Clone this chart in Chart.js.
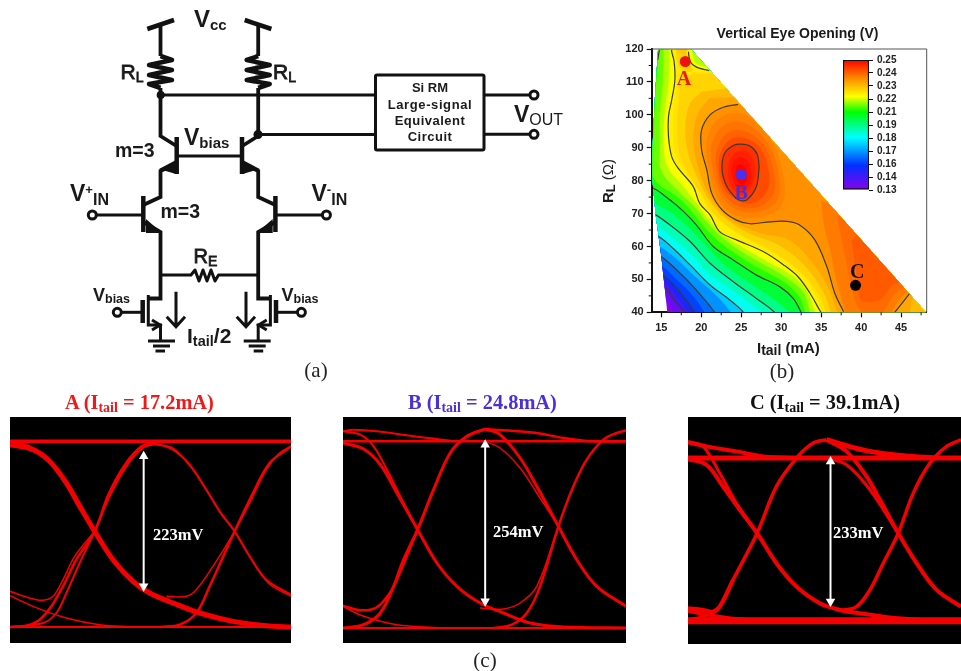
<!DOCTYPE html>
<html>
<head>
<meta charset="utf-8">
<title>Vertical eye opening</title>
<script src="https://cdn.jsdelivr.net/npm/chart.js@4/dist/chart.umd.min.js"></script>
<style>
html, body { margin: 0; padding: 0; background: #fff; }
#page { position: relative; width: 961px; height: 671px; overflow: hidden; }
canvas { position: absolute; display: block; }
#contour { left: 612px; top: 30px; }
#colorbar { left: 835px; top: 50px; }
#eyeA { left: 10px; top: 417px; background: #000; }
#eyeB { left: 343px; top: 417px; background: #000; }
#eyeC { left: 688px; top: 417px; background: #000; }
svg { position: absolute; left: 0; top: 0; }
.w { fill: none; stroke: #111; stroke-width: 3; }
.v { fill: none; stroke: #111; stroke-width: 3.8; }
.t { fill: none; stroke: #111; stroke-width: 4.5; }
.sans { font-family: "Liberation Sans", sans-serif; font-weight: bold; fill: #1a1a1a; }
.serif { font-family: "Liberation Serif", serif; }
.head { font-family: "Liberation Serif", serif; font-weight: bold; font-size: 20.4px; }
.eye { font-family: "Liberation Serif", serif; font-weight: bold; font-size: 16.5px; fill: #fff; }
</style>
</head>
<body>
<div id="page">
<canvas id="contour" width="330" height="320"></canvas>
<canvas id="colorbar" width="75" height="150"></canvas>
<canvas id="eyeA" width="281" height="226"></canvas>
<canvas id="eyeB" width="283" height="226"></canvas>
<canvas id="eyeC" width="273" height="227"></canvas>

<svg width="961" height="671" viewBox="0 0 961 671">
  <defs>
    <g id="half">
      <!-- supply rail, load resistor, output wire -->
      <path class="t" d="M147.3 29 L174 20"/>
      <path class="v" d="M160.5 25 V56"/>
      <path class="t" stroke-linejoin="round" d="M160.5 56 L172 60 L149 65 L172 70 L149 75 L172 80 L149 84 L160.5 88"/>
      <path class="v" d="M160.5 88 V136 L176.5 146"/>
      <!-- upper transistor -->
      <path class="t" d="M176.7 137 V174"/>
      <path class="v" d="M176.7 163 L160.5 171 V197 L143.3 205"/>
      <path fill="#111" d="M159 169 L176 160 L176 174 Z"/>
      <!-- lower transistor -->
      <path class="t" d="M143.3 196 V232"/>
      <path class="v" d="M143.3 222 L160.5 232 V298.5 H148.3"/>
      <path fill="#111" d="M146 219 L162 233 L146 233 Z"/>
      <path class="w" d="M96.7 215 H143"/>
      <circle cx="92.3" cy="215" r="4" fill="#fff" stroke="#111" stroke-width="3"/>
      <!-- tail mosfet and ground -->
      <path class="w" d="M148.3 295 V325 H160.5 V341"/>
      <path class="t" d="M142.7 300 V323"/>
      <path class="w" d="M121.7 312.3 H142"/>
      <circle cx="117.3" cy="312.3" r="4" fill="#fff" stroke="#111" stroke-width="3"/>
      <path class="w" d="M152 320 L160 325 L152 330"/>
      <path class="w" d="M148 341 H175 M153 346 H170 M155.5 351 H165"/>
    </g>
  </defs>
  <use href="#half"/>
  <use href="#half" transform="translate(418.7,0) scale(-1,1)"/>

  <circle cx="160.7" cy="95" r="4" fill="#111"/>
  <circle cx="258" cy="134.5" r="4.5" fill="#111"/>
  <path class="w" d="M160 95 H375 M258 134.5 H375"/>
  <path class="w" d="M176.7 156 H242"/>
  <path class="w" stroke-linejoin="round" d="M160.5 275 H191 L195 270 L199 281 L203 270 L207 281 L211 270 L215 281 L218.5 275 H258.3"/>
  <path class="w" d="M176 291.7 V325 M166.7 316.7 L176 326.7 L185 316.7"/>
  <path class="w" d="M246 291.7 V325 M236.7 316.7 L246 326.7 L255 316.7"/>

  <rect x="375.5" y="75" width="108.5" height="75" rx="1.5" fill="#fff" stroke="#111" stroke-width="3"/>
  <path class="w" d="M484 95 H530 M484 134.3 H530"/>
  <circle cx="534" cy="95" r="4" fill="#fff" stroke="#111" stroke-width="3"/>
  <circle cx="534" cy="134.3" r="4" fill="#fff" stroke="#111" stroke-width="3"/>

  <g class="sans" text-anchor="middle" font-size="13">
    <text x="430" y="92">Si RM</text>
    <text x="430" y="108.5" letter-spacing="0.6">Large-signal</text>
    <text x="430" y="125" letter-spacing="0.5">Equivalent</text>
    <text x="430" y="141" letter-spacing="0.5">Circuit</text>
  </g>

  <text class="sans" x="194" y="27" font-size="24">V<tspan font-size="15" dy="3">cc</tspan></text>
  <text class="sans" x="120.5" y="79" font-size="21" style="font-weight:normal" stroke="#1a1a1a" stroke-width="0.8">R<tspan font-size="14" dy="3">L</tspan></text>
  <text class="sans" x="273" y="79" font-size="21" style="font-weight:normal" stroke="#1a1a1a" stroke-width="0.8">R<tspan font-size="14" dy="3">L</tspan></text>
  <text class="sans" x="184" y="145" font-size="23">V<tspan font-size="15" dy="3">bias</tspan></text>
  <text class="sans" x="115" y="157" font-size="19.5">m=3</text>
  <text class="sans" x="160.5" y="218" font-size="19.5">m=3</text>
  <text class="sans" x="70" y="201" font-size="23">V<tspan font-size="13" dy="-7">+</tspan><tspan font-size="16" dy="11">IN</tspan></text>
  <text class="sans" x="311.5" y="201" font-size="23">V<tspan font-size="13" dy="-7">-</tspan><tspan font-size="16" dy="11">IN</tspan></text>
  <text class="sans" x="193.5" y="263" font-size="20" style="font-weight:normal" stroke="#1a1a1a" stroke-width="0.8">R<tspan font-size="14" dy="3">E</tspan></text>
  <text class="sans" x="93" y="301" font-size="18">V<tspan font-size="12.5" dy="2">bias</tspan></text>
  <text class="sans" x="281.5" y="301" font-size="18">V<tspan font-size="12.5" dy="2">bias</tspan></text>
  <text class="sans" x="187" y="343" font-size="21">I<tspan font-size="14.5" dy="3">tail</tspan><tspan dy="-3">/2</tspan></text>
  <text class="sans" x="514" y="122" font-size="23">V<tspan font-size="16" dy="3" style="font-weight:normal">OUT</tspan></text>

  <text class="serif" x="316" y="377" font-size="21" text-anchor="middle" fill="#222">(a)</text>
  <text class="serif" x="782" y="378" font-size="21" text-anchor="middle" fill="#222">(b)</text>
  <text class="serif" x="485" y="667" font-size="21" text-anchor="middle" fill="#222">(c)</text>

  <text class="sans" x="797.5" y="38" font-size="14" text-anchor="middle">Vertical Eye Opening (V)</text>
  <text class="sans" x="757" y="353" font-size="15">I<tspan font-size="14" dy="2">tail</tspan><tspan dy="-2"> (mA)</tspan></text>
  <text class="sans" transform="rotate(-90 613 181)" x="613" y="181" font-size="15" text-anchor="middle">R<tspan font-size="13" dy="2">L</tspan><tspan dy="-2" style="font-weight:normal"> (&#937;)</tspan></text>

  <text class="head" x="65" y="409" fill="#f01818">A (I<tspan font-size="14" dy="3">tail</tspan><tspan dy="-3"> = 17.2mA)</tspan></text>
  <text class="head" x="408" y="409" fill="#4a30d8">B (I<tspan font-size="14" dy="3">tail</tspan><tspan dy="-3"> = 24.8mA)</tspan></text>
  <text class="head" x="750" y="409" fill="#111">C (I<tspan font-size="14" dy="3">tail</tspan><tspan dy="-3"> = 39.1mA)</tspan></text>

  <text class="eye" x="153" y="540">223mV</text>
  <text class="eye" x="493" y="537">254mV</text>
  <text class="eye" x="833" y="538">233mV</text>
</svg>
</div>

<script>
// ---------- contour plot (b) ----------
const xTicks = [15, 20, 25, 30, 35, 40, 45];
const yTicks = [40, 50, 60, 70, 80, 90, 100, 110, 120];
const xMinorTicks = [17.5, 22.5, 27.5, 32.5, 37.5, 42.5, 47.5];
const yMinorTicks = [45, 55, 65, 75, 85, 95, 105, 115];

const colorbarLabels = ['0.13', '0.14', '0.16', '0.17', '0.18', '0.19', '0.21', '0.22', '0.23', '0.24', '0.25'];

// rim of the measured area, [Itail, RL]
const domainRim = [[14.6,120],[14.2,105],[13.9,90],[13.9,80],[14.3,69.6],[15,57],[15.75,40],[48.1,40],[18.7,120]];

// iso lines, low corner first, each one runs left edge -> bottom edge
const iso136 = [[13,47],[14.5,47],[15.7,43.5],[16.5,40.5],[16.9,39]];
const iso142 = [[13,50],[15.5,47.3],[16.9,42.7],[18,39.9],[18.2,38]];
const iso149 = [[13,53],[15.3,49.5],[17.1,44.5],[18.6,39],[18.8,38]];
const iso155 = [[13,54],[15.2,51.3],[17.3,46.3],[19.2,39.9],[19.4,38]];
const iso160 = [[13,56],[15.1,54],[17,49.8],[18.6,46],[20.4,40],[20.6,38]];
const iso165 = [[13,59],[15,56.9],[16.7,53.4],[19,47.8],[21.7,39.9],[21.9,38]];
const iso172 = [[13,62],[15,59.7],[17,56],[19.4,50.5],[21.5,46],[23.7,40],[23.9,38]];
const iso180 = [[13,65],[14.7,63],[16.5,59.4],[18.6,54.4],[21.1,48.3],[23.6,43.7],[25.3,39.9],[25.5,38]];
const iso185 = [[13,69],[16.2,63],[18.6,58],[21.1,51.5],[24,46.5],[27.4,40],[27.6,38]];
const iso190 = [[13,71],[14.3,69.6],[16.1,66.5],[18.6,61.5],[21.1,54.9],[24,49.3],[26.9,44.2],[29.2,39.9],[29.4,38]];
const iso197 = [[12.5,75],[16.1,70.5],[18.3,66],[20.5,60.5],[23,54.2],[26,49],[28.8,44.5],[31,40],[31.2,38]];
const iso204 = [[12,78.4],[14,77.7],[16.1,74.1],[17.8,70.6],[19.4,66.5],[21.5,60],[24,55.9],[26.9,51.3],[29.8,47.8],[31.5,44.2],[32.5,39.9],[32.7,38]];
const iso208 = [[14.6,122],[14.6,116],[14.3,108],[14.1,100],[13.9,90],[13.7,83],[14.6,79],[16.5,76],[18.5,71.5],[20,67],[22,62],[24.5,57.5],[27.5,53],[30.5,49],[32.2,45],[33,40],[33.2,38]];
const iso212 = [[15.3,122],[15.2,110],[14.8,100],[14.8,90],[15,83],[17,77],[19,72.5],[20.5,68],[22.5,63],[25,58.5],[28,54.3],[31,50],[32.8,46],[33.6,40],[33.8,38]];

// upper levels are whole outlines, they have to go round the low top right corner
const area216 = [[16,122],[15.9,110],[15.4,100],[15.3,90],[15.8,84],[17.3,79.5],[19.3,73.5],[20.8,68.5],[23,63.2],[25.5,59.3],[28.6,55],[31.5,51],[33.2,46.5],[34.2,40],[34.3,38],[60,38],[60,70],[24,112],[21.5,114.3],[19.7,115.2],[19,117],[18.9,122]];
const area219 = [[16.3,122],[16.3,119.2],[16.6,116.2],[16.7,110.6],[16.3,104.5],[15.9,99.5],[15.9,93.4],[16.3,87.3],[17.1,83.8],[19,78.2],[19.8,73.1],[21.1,69.6],[22.3,64.5],[24.4,62],[27.8,58.4],[30.3,54.4],[32.1,50.8],[33.6,45.8],[34.8,40.7],[35,38],[60,38],[60,70],[24,113],[21,113.4],[19.4,114.5],[18.6,116.2],[18.4,119.2],[18.4,122]];
const area221 = [[17,111],[16.7,105],[16.5,95],[16.8,88],[17.8,83.5],[19.5,77.5],[21,71],[23.5,65.5],[27,60.5],[31,55],[33.6,48.5],[35.2,40],[35.4,38],[60,38],[60,90],[23,113.5],[21,113],[19,113]];
const area223 = [[17.5,110],[17.2,105],[17,95],[17.3,88],[18.2,83],[20,76],[22,69],[25,63.5],[29,58.5],[32.5,52],[34.8,45],[35.6,40],[35.8,38],[60,38],[60,90],[22.5,114],[21,112.5],[19,112.5]];
const area226 = [[20,107],[18.5,103],[18,95],[18.5,87],[19.7,80],[21,74],[23,68.5],[26,64],[30,60],[33,54],[35.3,46],[36.2,40],[36.4,38],[60,38],[60,80],[24,110],[23,108]];
const area229 = [[21,105],[19.5,100],[19,92],[19.5,85],[20.5,78],[22,72],[24,67.5],[27.5,64],[31,62],[33.6,56],[35.8,48],[37,40],[37.2,38],[45.5,38],[47,46],[60,50],[26,106],[24,105.5]];
const area233 = [[24.6,103.2],[22.75,102.3],[21.1,100],[20.04,95.4],[20.04,89.4],[20.7,83.2],[21.3,76.2],[22.6,71.1],[24.4,68],[26.1,66.9],[28.6,67.5],[30.7,67.6],[32.3,66.5],[34.2,62],[35.7,53.9],[36.7,45.8],[37.8,40.2],[38,38],[44.2,38],[44.2,40],[46.1,45.8],[47,47],[60,60],[27,106]];

// darker orange around C
const blobC236 = [[35,74],[35.3,67],[36.1,59],[36.9,49.8],[38,40.3],[38.2,38],[43.8,38],[43.8,40],[45.7,46],[60,60]];
const blobC238 = [[37,69],[37.8,59],[38.6,49.8],[39.2,43.7],[40,40],[40.2,38],[42.5,38],[43,41],[45,47],[60,55],[40,72]];
const blobC240 = [[38.8,62],[39.2,55],[39.6,49],[40,43.7],[42.3,43.7],[44.4,48.8],[60,55],[41,67]];

// peak around B, loops start on the right side where the seam is least visible
const peakB235 = [[30.4,80],[29.6,88],[28,95],[25.5,100],[23,100],[21.2,96],[20.6,90],[21,83],[21.8,76],[23,71.5],[25,69],[27.5,69],[29.6,71],[30.4,75],[30.4,80]];
const peakB237 = [[29.8,80],[29.2,87],[27.8,93],[25.5,97.5],[23.3,97.5],[21.8,94],[21.2,89],[21.5,83],[22.2,77],[23.3,73],[25.3,70.5],[27.5,70.8],[29.2,73],[29.8,76.5],[29.8,80]];
const peakB239 = [[29.2,81],[28.6,87],[27.6,91.5],[25.5,95],[23.6,95],[22.3,91.5],[21.8,87],[22,82],[22.5,77.5],[23.5,74],[25.3,71.8],[27.2,72],[28.6,74.5],[29.2,77.5],[29.2,81]];
const peakB241 = [[28.5,82],[28,87],[27,91],[25.3,93],[23.8,92.7],[22.7,90],[22.2,86],[22.3,81.5],[22.9,77.5],[23.9,75],[25.3,73.2],[26.9,73.6],[28,76],[28.5,79],[28.5,82]];
const peakB244 = [[27.25,84.2],[27,88],[26.1,90.5],[25.04,91.1],[24,90.7],[22.9,88.2],[22.6,83.2],[23.2,78.2],[24.3,74.8],[25,73.9],[25.8,74.3],[26.9,78.2],[27.25,84.2]];
const peakB246 = [[26.8,83],[26.4,87],[25.6,89],[24.8,89],[23.8,87.5],[23.3,83],[23.7,78.5],[24.6,76],[25.4,75.8],[26.3,78.5],[26.8,83]];
const peakB248 = [[26.3,82],[25.9,85.5],[25.2,87],[24.6,87],[24,85.5],[23.8,82],[24.2,79],[24.9,77.3],[25.5,77.5],[26,79],[26.3,82]];
const peakB250 = [[25.8,81.5],[25.5,84],[25,85],[24.5,84.5],[24.3,81.5],[24.6,79.5],[25.1,78.8],[25.6,79.7],[25.8,81.5]];

// small peak around A
const peakA221 = [[16.8,122],[17,116],[17.8,113],[19,113.5],[18.4,116],[18.2,122]];
const peakA224 = [[16.7,122],[17.2,119],[18,118],[18.2,122]];

// black contour lines
const lineTopLeft = [[14.76,119.7],[14.55,116.7]];
const lineTopRight = [[18.4,119.2],[18.6,116.2],[19.4,114.5],[21,113.4]];
const lineA = [[16.3,119.8],[16.3,119.2],[16.6,116.2],[16.7,110.6],[16.3,104.5],[15.9,99.5],[15.9,93.4],[16.3,87.3],[17.1,83.8],[19,78.2],[19.8,73.1],[21.1,69.6],[22.3,64.5],[24.4,62],[27.8,58.4],[30.3,54.4],[32.1,50.8],[33.6,45.8],[34.8,40.7],[35,40]];
const lineMid = [[24.6,103.2],[22.75,102.3],[21.1,100],[20.04,95.4],[20.04,89.4],[20.7,83.2],[21.3,76.2],[22.6,71.1],[24.4,68],[26.1,66.9],[28.6,67.5],[30.7,67.6],[32.3,66.5],[34.2,62],[35.7,53.9],[36.7,45.8],[37.8,40.2]];
const lineCorner = [[44.2,40],[46.1,45.8]];

// points A, B, C on the map
const markerA = [[18, 116.2]];
const markerB = [[25, 81.8]];
const markerC = [[39.3, 48.2]];
const markerLabels = [['A', 17.85, 110.6, '#f01818'], ['B', 25, 75.9, '#4a30d8'], ['C', 39.5, 52, '#111']];

const colorStops = [[0, '#8a00f0'], [0.19, '#0030ff'], [0.405, '#00ffff'], [0.6, '#00ff00'], [0.72, '#ffff00'], [0.87, '#ff8000'], [1, '#ff0000']];

function hex(c) { return [1, 3, 5].map(i => parseInt(c.substr(i, 2), 16)); }

// same scale as the colour bar
function levelColor(v) {
    const f = (v - 0.13) / 0.12;
    for (let i = 1; i < colorStops.length; i++) {
        if (f <= colorStops[i][0]) {
            const a = colorStops[i - 1], b = colorStops[i];
            const k = (f - a[0]) / (b[0] - a[0]);
            const ca = hex(a[1]), cb = hex(b[1]);
            return 'rgb(' + ca.map((n, j) => Math.round(n + (cb[j] - n) * k)).join(',') + ')';
        }
    }
    return colorStops[colorStops.length - 1][1];
}

function xy(points) { return points.map(p => ({ x: p[0], y: p[1] })); }

// iso line closed round the high side of the map
function closeHigh(line) {
    const first = line[0], last = line[line.length - 1];
    return line.concat([[last[0], 36], [60, 36], [60, 130], [first[0], 130]]);
}

function band(points, value) {
    return { data: xy(points), showLine: true, fill: 'shape', backgroundColor: levelColor(value), borderWidth: 0, pointRadius: 0, tension: 0.35 };
}
function contourLine(points) {
    return { data: xy(points), showLine: true, fill: false, borderColor: '#3a3a30', borderWidth: 1.2, pointRadius: 0, tension: 0.35 };
}
function marker(points, color) {
    return { data: xy(points), showLine: false, pointRadius: 5.5, pointBackgroundColor: color, pointBorderWidth: 0 };
}

const contourSets = [
    band(domainRim, 0.13),
    band(closeHigh(iso136), 0.136), band(closeHigh(iso142), 0.142), band(closeHigh(iso149), 0.149),
    band(closeHigh(iso155), 0.155), band(closeHigh(iso160), 0.16), band(closeHigh(iso165), 0.165),
    band(closeHigh(iso172), 0.172), band(closeHigh(iso180), 0.18), band(closeHigh(iso185), 0.185),
    band(closeHigh(iso190), 0.19), band(closeHigh(iso197), 0.197), band(closeHigh(iso204), 0.204),
    band(closeHigh(iso208), 0.208), band(closeHigh(iso212), 0.212),
    band(area216, 0.216), band(area219, 0.219), band(area221, 0.2205), band(area223, 0.2225),
    band(peakA221, 0.222), band(peakA224, 0.224),
    band(area226, 0.226), band(area229, 0.229), band(area233, 0.232),
    band(blobC236, 0.235), band(blobC238, 0.237), band(blobC240, 0.239),
    band(peakB235, 0.234), band(peakB237, 0.236), band(peakB239, 0.238), band(peakB241, 0.241),
    band(peakB244, 0.244), band(peakB246, 0.246), band(peakB248, 0.248), band(peakB250, 0.25),
    contourLine(lineTopLeft), contourLine(lineTopRight), contourLine(lineA), contourLine(lineMid), contourLine(lineCorner),
    contourLine(peakB244), contourLine(iso204), contourLine(iso190), contourLine(iso180), contourLine(iso165), contourLine(iso155), contourLine(iso142),
    marker(markerA, '#f01010'), marker(markerB, '#4a30e8'), marker(markerC, '#000')
];
// later entries have to paint on top
contourSets.forEach((d, i) => { d.order = contourSets.length - i; });

const mapPlugin = {
    id: 'mapPlugin',
    beforeDatasetsDraw(chart) {
        const ctx = chart.ctx, sx = chart.scales.x, sy = chart.scales.y;
        ctx.save();
        ctx.beginPath();
        domainRim.forEach((p, i) => {
            const px = sx.getPixelForValue(p[0]), py = sy.getPixelForValue(p[1]);
            if (i === 0) ctx.moveTo(px, py); else ctx.lineTo(px, py);
        });
        ctx.closePath();
        ctx.clip();
    },
    afterDatasetsDraw(chart) {
        const ctx = chart.ctx, sx = chart.scales.x, sy = chart.scales.y, a = chart.chartArea;
        ctx.restore();
        ctx.save();
        // frame on top and right
        ctx.strokeStyle = '#555';
        ctx.lineWidth = 1;
        ctx.beginPath();
        ctx.moveTo(a.left, a.top); ctx.lineTo(a.right, a.top); ctx.lineTo(a.right, a.bottom);
        ctx.stroke();
        // minor ticks
        ctx.strokeStyle = '#111';
        ctx.beginPath();
        xMinorTicks.forEach(v => {
            const p = sx.getPixelForValue(v);
            ctx.moveTo(p, a.bottom); ctx.lineTo(p, a.bottom + 3);
        });
        yMinorTicks.forEach(v => {
            const p = sy.getPixelForValue(v);
            ctx.moveTo(a.left, p); ctx.lineTo(a.left - 3, p);
        });
        ctx.stroke();
        // A, B, C
        ctx.font = 'bold 20px "Liberation Serif"';
        ctx.textAlign = 'center';
        ctx.textBaseline = 'middle';
        markerLabels.forEach(m => {
            ctx.fillStyle = m[3];
            ctx.fillText(m[0], sx.getPixelForValue(m[1]), sy.getPixelForValue(m[2]));
        });
        ctx.restore();
    }
};

const tickFont = { family: '"Liberation Sans"', weight: 'bold', size: 11 };

new Chart(document.getElementById('contour'), {
    type: 'scatter',
    data: { datasets: contourSets },
    plugins: [mapPlugin],
    options: {
        responsive: false, animation: false, events: [],
        layout: { autoPadding: false, padding: { left: 0, top: 19, right: 15.3, bottom: 0 } },
        plugins: { legend: { display: false }, tooltip: { enabled: false } },
        scales: {
            x: {
                type: 'linear', min: 13.8, max: 48.2,
                afterBuildTicks(s) { s.ticks = xTicks.map(v => ({ value: v })); },
                afterFit(s) { s.height = 37.7; },
                grid: { drawOnChartArea: false, tickLength: 5, tickColor: '#111', tickWidth: 1.2 },
                border: { color: '#111', width: 2 },
                ticks: { color: '#222', font: tickFont, maxRotation: 0, padding: 4, autoSkip: false }
            },
            y: {
                type: 'linear', min: 40, max: 120,
                afterBuildTicks(s) { s.ticks = yTicks.map(v => ({ value: v })); },
                afterFit(s) { s.width = 39.7; },
                grid: { drawOnChartArea: false, tickLength: 5, tickColor: '#111', tickWidth: 1.2 },
                border: { color: '#111', width: 2 },
                ticks: { color: '#222', font: tickFont, padding: 3, autoSkip: false }
            }
        }
    }
});

// ---------- colour bar ----------
new Chart(document.getElementById('colorbar'), {
    type: 'bar',
    data: {
        labels: ['V'],
        datasets: [{
            data: [[0, 10]],
            barPercentage: 1, categoryPercentage: 1,
            borderColor: '#111', borderWidth: 1.5, borderSkipped: false,
            backgroundColor(c) {
                const a = c.chart.chartArea;
                if (!a) return '#f00';
                const g = c.chart.ctx.createLinearGradient(0, a.bottom, 0, a.top);
                colorStops.forEach(s => g.addColorStop(s[0], s[1]));
                return g;
            }
        }]
    },
    options: {
        responsive: false, animation: false, events: [],
        layout: { autoPadding: false, padding: { left: 8, top: 9, right: 0, bottom: 8 } },
        plugins: { legend: { display: false }, tooltip: { enabled: false } },
        scales: {
            x: { display: false },
            y: {
                position: 'right', min: 0, max: 10,
                afterBuildTicks(s) { s.ticks = colorbarLabels.map((l, i) => ({ value: i })); },
                afterFit(s) { s.width = 41; },
                grid: { drawOnChartArea: false, tickLength: 4, tickColor: '#111', tickWidth: 1 },
                border: { display: false },
                ticks: {
                    color: '#222', padding: 4, autoSkip: false,
                    font: { family: '"Liberation Sans"', weight: 'bold', size: 10 },
                    callback(v) { return colorbarLabels[v]; }
                }
            }
        }
    }
});

// ---------- eye diagrams (c), x and y in panel units ----------
const eyeARailTop = [[0,605],[843,605]];
const eyeARailBottom = [[0,48],[843,48]];
const eyeAFall1 = [[0,595],[69,580],[119,545],[169,480],[209,410],[254,335],[309,250],[369,185],[419,150],[489,120],[569,90],[669,65],[769,52],[843,48]];
const eyeAFall2 = [[0,605],[60,590],[115,550],[165,490],[209,420],[254,335]];
const eyeARise1 = [[0,48],[99,60],[139,90],[169,150],[209,240],[254,335],[299,440],[349,530],[399,585],[444,595],[489,580],[539,535],[589,460],[629,395],[674,335],[719,260],[769,190],[843,145]];
const eyeARise2 = [[0,48],[49,52],[89,70],[124,110],[159,170],[199,250],[254,335],[295,445],[345,535],[395,590],[444,600]];
const eyeAShoulder = [[0,155],[59,135],[99,128],[129,140],[159,190],[194,260],[254,335]];
const eyeATail = [[0,142],[69,110],[169,75],[269,55],[369,48]];
const eyeAUpper = [[444,595],[489,585],[545,525],[595,450],[632,390],[674,335],[722,255],[775,180],[843,140]];
const eyeAShoulder2 = [[469,140],[529,140],[559,160],[609,230],[674,335],[719,420],[769,520],[809,570],[843,590]];
const eyeARise3 = [[449,48],[509,55],[559,90],[599,170],[674,335],[729,450],[779,540],[843,590]];
const eyeAArrow = [[401,170],[401,560]];

const eyeBRailTop = [[0,605],[850,605]];
const eyeBRailBottom = [[0,45],[850,45]];
const eyeBFall1 = [[0,600],[62,582],[112,535],[162,450],[224,340],[282,240],[342,170],[412,120],[482,90],[562,60],[662,48],[850,45]];
const eyeBFall2 = [[0,635],[52,625],[92,590],[132,520],[182,420],[224,340]];
const eyeBOver1 = [[0,635],[32,640],[102,635],[212,620],[342,605]];
const eyeBRise1 = [[0,45],[62,55],[112,90],[152,170],[182,250],[224,340],[272,460],[322,570],[372,620],[427,642]];
const eyeBOver2 = [[427,642],[482,638],[582,630],[662,615],[752,605],[850,605]];
const eyeBPeak1 = [[427,642],[472,625],[532,555],[582,470],[647,350],[702,250],[762,170],[850,110]];
const eyeBPeak2 = [[427,605],[472,585],[532,525],[582,450],[647,350]];
const eyeBShoulder1 = [[0,112],[42,100],[82,100],[112,115],[152,170],[224,340]];
const eyeBTail = [[0,110],[62,80],[162,55],[292,45]];
const eyeBRise2 = [[452,45],[507,55],[552,90],[592,170],[647,350],[692,470],[732,550],[782,610],[822,630],[850,638]];
const eyeBShoulder2 = [[412,105],[482,102],[532,120],[582,170],[647,350]];
const eyeBArrow = [[427,125],[427,595]];

const eyeCRailTop = [[0,557],[818,557]];
const eyeCRailBottom = [[0,70],[818,70]];
const eyeCOver1 = [[0,604],[55,592],[145,577],[225,562],[325,557]];
const eyeCRise1 = [[0,72],[45,82],[95,112],[135,192],[207,332],[265,472],[325,557],[375,602],[415,612]];
const eyeCOver2 = [[415,612],[465,597],[545,577],[645,564],[745,557]];
const eyeCPeak1 = [[415,612],[475,577],[535,502],[575,432],[630,332],[685,242],[745,162],[818,112]];
const eyeCPeak2 = [[415,557],[475,537],[545,462],[630,332]];
const eyeCFall1 = [[0,554],[55,537],[105,472],[155,402],[207,332],[265,242],[325,172],[395,122],[455,102],[515,92],[585,82],[705,72],[818,70]];
const eyeCFall2 = [[0,607],[45,592],[95,512],[145,422],[207,332]];
const eyeCShoulder = [[0,107],[45,102],[75,97],[95,112],[135,192]];
const eyeCTail = [[0,100],[45,90],[145,75],[250,70]];
const eyeCRise2 = [[455,100],[505,112],[545,162],[585,242],[630,332],[675,452],[725,542],[775,592],[818,612]];
const eyeCArrow = [[427,127],[427,547]];

function trace(points, width) {
    return { data: xy(points), showLine: true, borderColor: '#f40000', borderWidth: width, pointRadius: 0, tension: 0.35, fill: false };
}
function arrow(points) {
    return {
        data: xy(points), showLine: true, borderColor: '#fff', borderWidth: 2, tension: 0, order: -1,
        pointStyle: 'triangle', pointRadius: 5.5, pointBackgroundColor: '#fff', pointBorderWidth: 0, pointRotation: [180, 0]
    };
}

function eyeChart(id, maxX, maxY, sets) {
    new Chart(document.getElementById(id), {
        type: 'scatter',
        data: { datasets: sets },
        options: {
            responsive: false, animation: false, events: [],
            layout: { autoPadding: false, padding: 0 },
            plugins: { legend: { display: false }, tooltip: { enabled: false } },
            scales: {
                x: { type: 'linear', min: 0, max: maxX, display: false },
                y: { type: 'linear', min: 0, max: maxY, display: false }
            }
        }
    });
}

eyeChart('eyeA', 843, 678, [
    arrow(eyeAArrow), trace(eyeARailTop, 3.5), trace(eyeARailBottom, 2), trace(eyeAFall1, 5), trace(eyeAFall2, 2),
    trace(eyeARise1, 2), trace(eyeARise2, 2.5), trace(eyeAShoulder, 1.5), trace(eyeATail, 1.5),
    trace(eyeAUpper, 1.5), trace(eyeAShoulder2, 1.5), trace(eyeARise3, 2.5)
]);
eyeChart('eyeB', 850, 678, [
    arrow(eyeBArrow), trace(eyeBRailTop, 2.5), trace(eyeBRailBottom, 2), trace(eyeBFall1, 3), trace(eyeBFall2, 2),
    trace(eyeBOver1, 2), trace(eyeBRise1, 3), trace(eyeBOver2, 2.5), trace(eyeBPeak1, 3), trace(eyeBPeak2, 1.5),
    trace(eyeBShoulder1, 2.5), trace(eyeBTail, 1.5), trace(eyeBRise2, 2.5), trace(eyeBShoulder2, 1.5)
]);
eyeChart('eyeC', 818, 680, [
    arrow(eyeCArrow), trace(eyeCRailTop, 5), trace(eyeCRailBottom, 7), trace(eyeCOver1, 4), trace(eyeCRise1, 3.5),
    trace(eyeCOver2, 5), trace(eyeCPeak1, 4), trace(eyeCPeak2, 3), trace(eyeCFall1, 4), trace(eyeCFall2, 3),
    trace(eyeCShoulder, 4), trace(eyeCTail, 4), trace(eyeCRise2, 3.5)
]);
</script>
</body>
</html>
